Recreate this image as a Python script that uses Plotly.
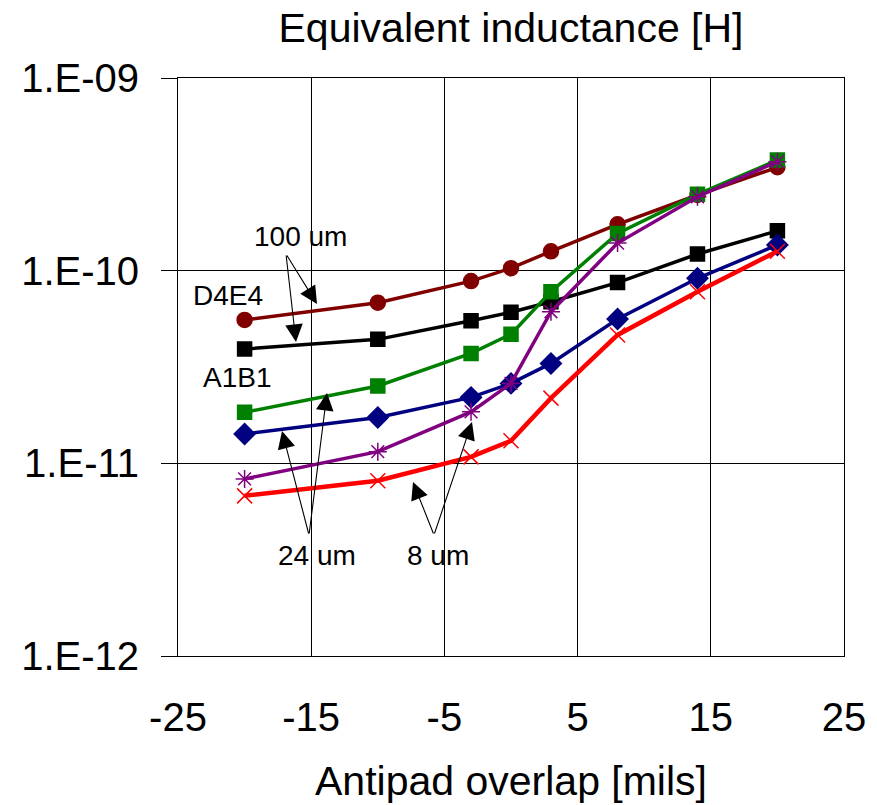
import plotly.graph_objects as go

x_mils = [-20, -10, -3, 0, 3, 8, 14, 20]

d4e4_100um = [5.55e-11, 6.82e-11, 8.83e-11, 1.03e-10, 1.26e-10, 1.74e-10, 2.47e-10, 3.44e-10]
a1b1_100um = [3.92e-11, 4.40e-11, 5.50e-11, 6.08e-11, 6.90e-11, 8.67e-11, 1.22e-10, 1.61e-10]
d4e4_24um = [1.84e-11, 2.52e-11, 3.72e-11, 4.68e-11, 7.78e-11, 1.56e-10, 2.49e-10, 3.75e-10]
a1b1_24um = [1.42e-11, 1.73e-11, 2.20e-11, 2.60e-11, 3.30e-11, 5.61e-11, 9.13e-11, 1.36e-10]
d4e4_8um = [8.30e-12, 1.15e-11, 1.85e-11, 2.60e-11, 6.12e-11, 1.39e-10, 2.42e-10, 3.68e-10]
a1b1_8um = [6.78e-12, 8.13e-12, 1.08e-11, 1.31e-11, 2.18e-11, 4.64e-11, 7.78e-11, 1.26e-10]

x_ticks = [-25, -15, -5, 5, 15, 25]
y_ticks = [1e-12, 1e-11, 1e-10, 1e-9]
y_ticktext = ["1.E-12", "1.E-11", "1.E-10", "1.E-09"]

FONT = "Liberation Sans, Arial, sans-serif"

series = [
    (d4e4_100um, "#800000", "circle", 15, 3.5),
    (a1b1_100um, "#000000", "square", 14, 3.5),
    (d4e4_24um, "#008000", "square", 14, 3.5),
    (a1b1_24um, "#000080", "diamond", 16, 3.5),
    (d4e4_8um, "#800080", "asterisk-open", 15, 3.5),
    (a1b1_8um, "#FF0000", "x-thin-open", 15, 4.5),
]

fig = go.Figure()
for vals, col, sym, size, lw in series:
    fig.add_trace(go.Scatter(
        x=x_mils, y=vals, mode="lines+markers",
        line=dict(color=col, width=lw),
        marker=dict(symbol=sym, size=size, color=col,
                    line=dict(color=col, width=1.5)),
        showlegend=False,
    ))

# pixel->data helpers for annotation placement (plot area 178..844 x, 78..656 y)
def dx(px):
    return -25 + (px - 178) / 666 * 50

def dy(py):
    return -9 - (py - 78) / 578 * 3

labels = [
    ("100 um", 300, 236),
    ("D4E4", 228, 295),
    ("A1B1", 237, 377),
    ("24 um", 317, 555),
    ("8 um", 438, 555),
]
for txt, px, py in labels:
    fig.add_annotation(x=dx(px), y=dy(py), xref="x", yref="y", text=txt,
                       showarrow=False, font=dict(size=28, color="black", family=FONT),
                       xanchor="center", yanchor="middle")

arrows = [
    ((286, 254), (317, 304)),
    ((286, 254), (296, 342)),
    ((309, 535), (282, 431)),
    ((309, 535), (327, 393)),
    ((434, 535), (413, 482)),
    ((434, 535), (472, 422)),
]
for (tx, ty), (hx, hy) in arrows:
    fig.add_annotation(x=dx(hx), y=dy(hy), ax=dx(tx), ay=dy(ty),
                       xref="x", yref="y", axref="x", ayref="y",
                       text="", showarrow=True, arrowhead=2, arrowsize=3.2,
                       arrowwidth=1.1, arrowcolor="black", standoff=0)

fig.update_layout(
    width=877, height=805,
    margin=dict(l=178, r=33, t=78, b=149, autoexpand=False),
    paper_bgcolor="white", plot_bgcolor="white",
    font=dict(family=FONT, color="black"),
    title=dict(text="Equivalent inductance [H]", x=(178 + 844) / 2 / 877, xanchor="center",
               y=1 - 28 / 805, yanchor="middle", yref="container",
               font=dict(size=41, family=FONT, color="black")),
)
fig.update_xaxes(
    range=[-25, 25], tickvals=x_ticks, ticktext=[str(v) for v in x_ticks],
    showgrid=True, gridcolor="black", gridwidth=1,
    showline=True, linecolor="black", linewidth=1, mirror=True,
    ticks="", ticklabelstandoff=26, zeroline=False, automargin=False,
    tickfont=dict(size=40, family=FONT, color="black"),
    title=dict(text="Antipad overlap [mils]", standoff=28,
               font=dict(size=41, family=FONT, color="black")),
)
fig.update_yaxes(
    type="log", range=[-12, -9], tickvals=y_ticks, ticktext=y_ticktext,
    showgrid=True, gridcolor="black", gridwidth=1,
    showline=True, linecolor="black", linewidth=1, mirror=True,
    ticks="outside", ticklen=16, tickcolor="black", tickwidth=1,
    ticklabelstandoff=14, zeroline=False, automargin=False,
    tickfont=dict(size=40, family=FONT, color="black"),
)

fig.write_html("out.html")
